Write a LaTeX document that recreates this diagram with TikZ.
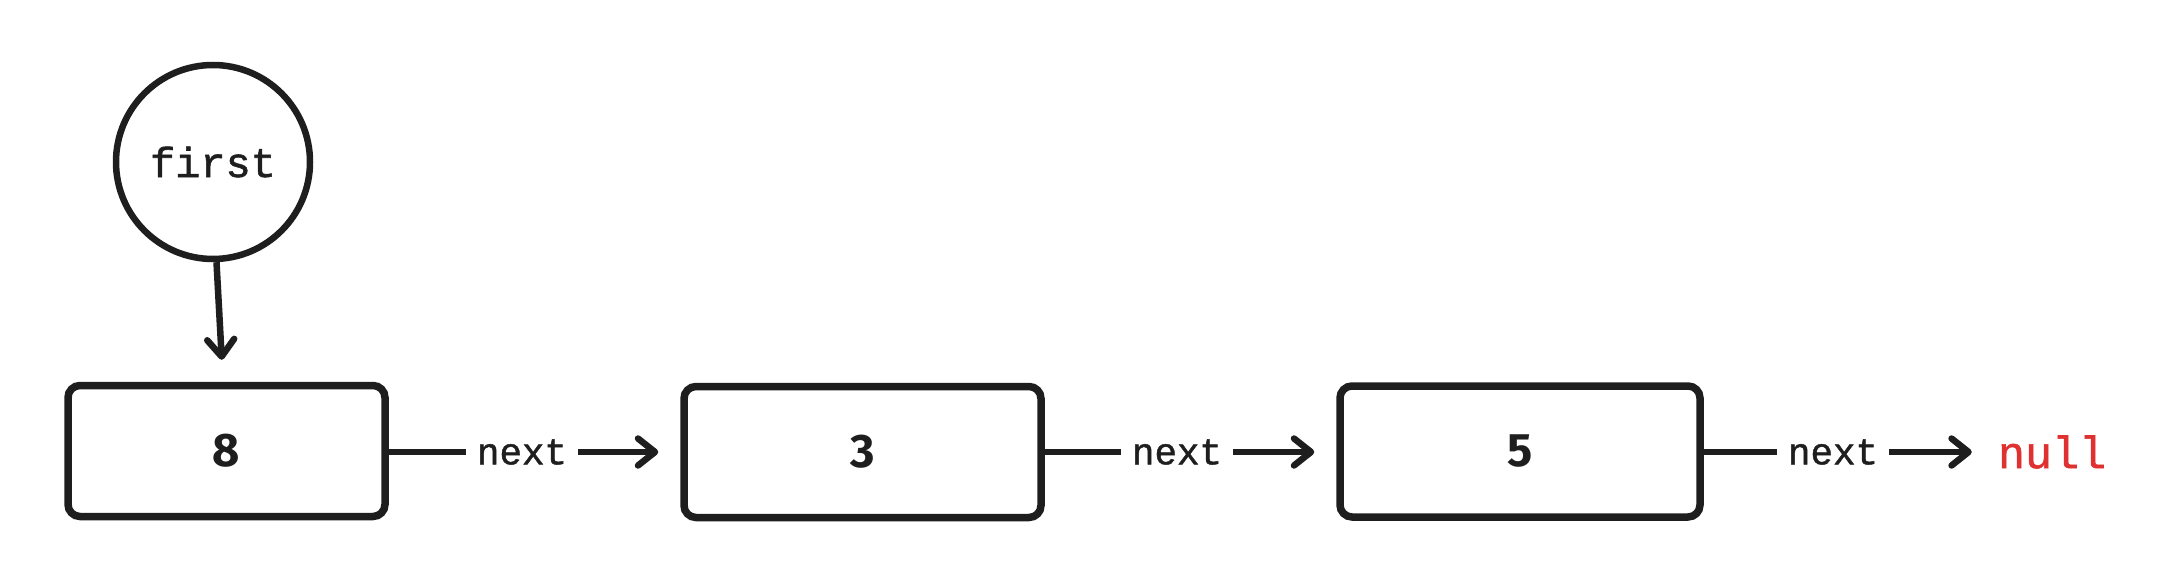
\documentclass[tikz,border=0pt]{standalone}
\usepackage{fontspec}
\setmainfont{Liberation Sans}
\newfontfamily\codefont[FakeBold=1.3]{Liberation Mono}
\newfontfamily\handfont{Fira Sans}
\usetikzlibrary{arrows.meta}
\definecolor{ink}{HTML}{1E1E1E}
\definecolor{nullred}{HTML}{E03131}
\tikzset{
  cell/.style={draw=ink, line width=7.5pt, rounded corners=12pt, minimum height=131pt, inner sep=0pt,
    font=\handfont\bfseries\fontsize{47}{47}\selectfont, text=ink},
  ptr/.style={draw=ink, circle, line width=6.5pt, minimum size=194pt, inner sep=0pt,
    font=\codefont\fontsize{42}{42}\selectfont, text=ink},
  lbl/.style={inner xsep=11pt, inner ysep=0pt, font=\codefont\fontsize{37.5}{37.5}\selectfont, text=ink},
  nulltext/.style={inner sep=0pt, font=\codefont\fontsize{45}{45}\selectfont, text=nullred},
  link/.style={draw=ink, line width=6.5pt},
  arr/.style={draw=ink, line width=6.5pt, -{Straight Barb[length=17pt,width=27pt,round]}, shorten >=22pt}
}
\begin{document}
\begin{tikzpicture}[x=1pt,y=-1pt]
  \useasboundingbox (0,0) rectangle (2177,580);
  % pointer
  \node[ptr] (first) at (213,162) {first};
  % cells
  \node[cell, minimum width=317pt] (c1) at (226.5,451) {8};
  \node[cell, minimum width=357pt] (c2) at (862.5,452) {3};
  \node[cell, minimum width=360pt] (c3) at (1520,451.5) {5};
  % labels
  \node[lbl] (n1) at (522,452) {next};
  \node[lbl] (n2) at (1177,452) {next};
  \node[lbl] (n3) at (1833,452) {next};
  \node[nulltext] (null) at (2052,452) {null};
  % connectors
  \draw[arr] (first.272) -- ([xshift=-3.5pt]c1.north);
  \draw[link] (c1.east |- n1) -- (n1.west);
  \draw[arr] (n1.east) -- (c2.west |- n1);
  \draw[link] (c2.east |- n2) -- (n2.west);
  \draw[arr] (n2.east) -- (c3.west |- n2);
  \draw[link] (c3.east |- n3) -- (n3.west);
  \draw[arr, shorten >=26pt] (n3.east) -- (null.west);
\end{tikzpicture}
\end{document}
